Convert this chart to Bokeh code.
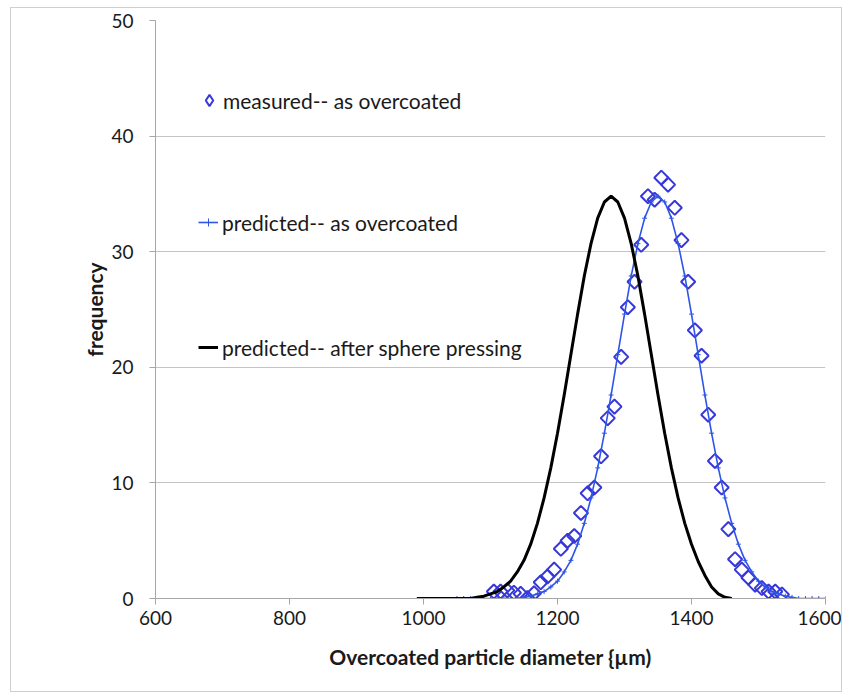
import math
from bokeh.plotting import figure
from bokeh.models import Range1d, FixedTicker, Legend, LegendItem, ColumnDataSource
from bokeh.embed import file_html
from bokeh.resources import INLINE

# ---- data ----
measured_x = [1105, 1115, 1125, 1135, 1145, 1155, 1165, 1175, 1185, 1195,
              1205, 1215, 1225, 1235, 1245, 1255, 1265, 1275, 1285, 1295,
              1305, 1315, 1325, 1335, 1345, 1355, 1365, 1375, 1385, 1395,
              1405, 1415, 1425, 1435, 1445, 1455, 1465, 1475, 1485, 1495,
              1505, 1515, 1525, 1535]
measured_y = [0.6, 0.6, 0.7, 0.5, 0.4, 0.05, 0.45, 1.4, 1.9, 2.5,
              4.3, 5.0, 5.4, 7.4, 9.1, 9.6, 12.3, 15.6, 16.6, 20.9,
              25.2, 27.4, 30.6, 34.8, 34.5, 36.4, 35.8, 33.8, 31.0, 27.4,
              23.2, 21.0, 15.9, 11.9, 9.6, 6.0, 3.4, 2.5, 1.8, 1.2,
              0.9, 0.6, 0.6, 0.35]

pred_x = [1050, 1060, 1070, 1080, 1090, 1100, 1110, 1120, 1130, 1140,
          1150, 1160, 1170, 1180, 1190, 1200, 1210, 1220, 1230, 1240,
          1250, 1260, 1270, 1280, 1290, 1300, 1310, 1320, 1330, 1340,
          1350, 1360, 1370, 1380, 1390, 1400, 1410, 1420, 1430, 1440,
          1450, 1460, 1470, 1480, 1490, 1500, 1510, 1520, 1530, 1540,
          1550, 1560, 1570, 1580, 1590, 1600]
pred_y = [0, 0, 0, 0, 0, 0, 0, 0, 0, 0,
          0.1, 0.2, 0.4, 0.6, 1.0, 1.5, 2.3, 3.3, 4.7, 6.5,
          8.7, 11.3, 14.3, 17.6, 21.1, 24.6, 27.9, 30.7, 32.9, 34.3,
          34.8, 34.3, 32.9, 30.7, 27.9, 24.6, 21.1, 17.6, 14.3, 11.3,
          8.7, 6.5, 4.7, 3.3, 2.3, 1.5, 1.0, 0.6, 0.4, 0.2,
          0.1, 0, 0, 0, 0, 0]

press_x = [990, 1000, 1010, 1020, 1030, 1040, 1050, 1060, 1070, 1080,
           1090, 1100, 1110, 1120, 1130, 1140, 1150, 1160, 1170, 1180,
           1190, 1200, 1210, 1220, 1230, 1240, 1250, 1260, 1270, 1280,
           1290, 1300, 1310, 1320, 1330, 1340, 1350, 1360, 1370, 1380,
           1390, 1400, 1410, 1420, 1430, 1440, 1450, 1460]
press_y = [0, 0, 0, 0, 0, 0, 0, 0, 0, 0.1,
           0.2, 0.4, 0.6, 1.0, 1.5, 2.3, 3.3, 4.7, 6.5, 8.7,
           11.3, 14.3, 17.6, 21.1, 24.6, 27.9, 30.7, 32.9, 34.3, 34.8,
           34.3, 32.9, 30.7, 27.9, 24.6, 21.1, 17.6, 14.3, 11.3, 8.7,
           6.5, 4.7, 3.2, 2.0, 1.0, 0.4, 0.1, 0]

x_ticks = [600, 800, 1000, 1200, 1400, 1600]
y_ticks = [0, 10, 20, 30, 40, 50]

labels = ["measured-- as overcoated",
          "predicted-- as overcoated",
          "predicted-- after sphere pressing"]
x_title = "Overcoated particle diameter {\u00b5m)"
y_title = "frequency"

FONT = "Lato"
TXT = "#1a1a1a"
MEAS_C = "#3838d8"
PRED_C = "#2f55e8"

p = figure(width=832, height=685, output_backend="svg", toolbar_location=None,
           x_range=Range1d(600, 1600), y_range=Range1d(0, 50),
           min_border_left=144, min_border_right=18,
           min_border_top=12, min_border_bottom=95)
p.styles = {"margin-left": "10px", "margin-top": "7px",
            "border": "1px solid #cfcfcf"}
p.outline_line_color = None
p.background_fill_color = "white"
p.border_fill_color = "white"

# an off-screen range, used only so the legend key glyph is not drawn in the frame
p.extra_y_ranges = {"legend_only": Range1d(1000, 2000)}

p.xgrid.visible = False
p.ygrid.grid_line_color = "#c4c4c4"
p.ygrid.grid_line_width = 1

p.xaxis.ticker = FixedTicker(ticks=x_ticks)
p.yaxis.ticker = FixedTicker(ticks=y_ticks)
for ax in (p.xaxis[0], p.yaxis[0]):
    ax.axis_line_color = "#a6a6a6"
    ax.major_tick_line_color = "#a6a6a6"
    ax.minor_tick_line_color = None
    ax.major_tick_in = 0
    ax.major_tick_out = 6
    ax.major_label_text_font = FONT
    ax.major_label_text_font_size = "19px"
    ax.major_label_text_color = TXT
    ax.axis_label_text_font = FONT
    ax.axis_label_text_font_size = "21px"
    ax.axis_label_text_font_style = "bold"
    ax.axis_label_text_color = TXT

p.xaxis.axis_label = x_title
p.yaxis.axis_label = y_title
p.xaxis.major_label_standoff = 6
p.xaxis.axis_label_standoff = 16
p.yaxis.major_label_standoff = 16
p.yaxis.axis_label_standoff = 1

meas_src = ColumnDataSource(data=dict(x=measured_x, y=measured_y))

r_meas = p.scatter("x", "y", source=meas_src, marker="square", size=10,
                   angle=math.pi / 4, fill_color=None,
                   line_color=MEAS_C, line_width=2)
r_pred_line = p.line(pred_x, pred_y, line_color=PRED_C, line_width=1.6)
r_pred_mark = p.scatter(pred_x, pred_y, marker="cross", size=5,
                        line_color=PRED_C, line_width=1)
r_press = p.line(press_x, press_y, line_color="black", line_width=3)

# legend key: upright diamond (falls outside the frame, so only the legend shows it)
r_meas_key = p.scatter("x", "y", source=meas_src, y_range_name="legend_only",
                       marker="diamond", size=15, fill_color=None,
                       line_color=MEAS_C, line_width=2)


def style_legend(lg):
    lg.orientation = "vertical"
    lg.padding = 0
    lg.margin = 0
    lg.label_text_font = FONT
    lg.label_text_font_size = "21px"
    lg.label_text_color = TXT
    lg.background_fill_alpha = 0
    lg.border_line_color = None


legend_meas = Legend(items=[LegendItem(label=labels[0], renderers=[r_meas_key])],
                     location=(40, 484))
style_legend(legend_meas)
legend_meas.glyph_width = 28
legend_meas.glyph_height = 28
legend_meas.label_standoff = 0
p.add_layout(legend_meas)

legend_pred = Legend(items=[
    LegendItem(label=labels[1], renderers=[r_pred_line, r_pred_mark]),
    LegendItem(label=labels[2], renderers=[r_press]),
], location=(43, 238))
style_legend(legend_pred)
legend_pred.glyph_width = 20
legend_pred.glyph_height = 26
legend_pred.spacing = 99
legend_pred.label_standoff = 4
p.add_layout(legend_pred)

open("out.html", "w").write(file_html(p, INLINE))
